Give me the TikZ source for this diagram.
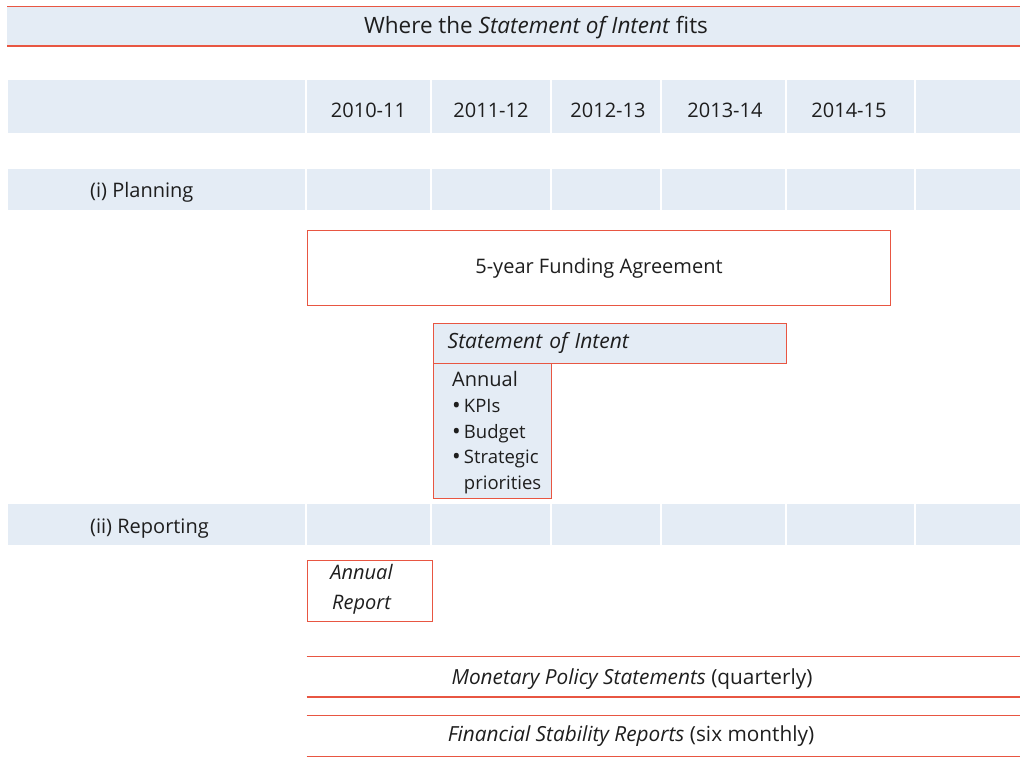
\documentclass[tikz,border=0pt]{standalone}
\usepackage{fontspec}
\setmainfont{Open Sans}
\definecolor{rbred}{RGB}{232,86,66}
\definecolor{paleblue}{RGB}{228,236,245}
\definecolor{ink}{RGB}{30,30,30}
\newcommand{\dotitem}{\raisebox{-1.2pt}{\fontsize{23}{23}\selectfont\textbullet}\,}

\begin{document}
\begin{tikzpicture}[x=1pt,y=-1pt,
  every node/.style={font=\fontsize{20}{24}\selectfont,text=ink,inner sep=0pt},
  band/.style={fill=paleblue},
  rule/.style={draw=rbred,line width=1.4pt},
  frame/.style={rule,anchor=north west},
  wide/.style={font=\fontsize{20.8}{24}\selectfont},
  small/.style={font=\fontsize{18.5}{25.6}\selectfont}]
\useasboundingbox (0,0) rectangle (1020,777);

% title strip
\fill[band] (7,6.5) rectangle (1020,46);
\draw[rule] (7,6.5) -- (1020,6.5) (7,46) -- (1020,46);
\node[anchor=base,font=\fontsize{22.5}{26}\selectfont] (title) at (536,33.3) {Where the \textit{Statement of Intent} fits};

% year header, planning and reporting rows
\foreach \ya/\yb in {80/133,169/210,504/545}
  \foreach \xa/\xb in {8/305,307/430,432/550,552/660,662/785,787/914,916/1020}
    \fill[band] (\xa,\ya) rectangle (\xb,\yb);

\node[anchor=base] (y1) at (368.5,117.3) {2010-11};
\node[anchor=base] (y2) at (491,117.3) {2011-12};
\node[anchor=base] (y3) at (608,117.3) {2012-13};
\node[anchor=base] (y4) at (725,117.3) {2013-14};
\node[anchor=base] (y5) at (849,117.3) {2014-15};

\node[anchor=base west] (plan) at (90,197) {(i) Planning};
\node[anchor=base west] (rep) at (90,533) {(ii) Reporting};

% planning documents
\node[frame,minimum width=583.5,minimum height=75.5] (fund) at (306.5,229.5) {5-year Funding Agreement};
\node[frame,band,minimum width=118,minimum height=135] (annual) at (432.5,362.5) {};
\node[frame,band,minimum height=40,text width=324,inner xsep=14.5,align=left,font=\fontsize{21}{24}\selectfont\itshape] (soi) at (432.5,322.5) {Statement of Intent};
\node[small,anchor=north west,align=left] (kpi) at (452,371.5)
  {{\fontsize{20}{24}\selectfont Annual}\\\dotitem KPIs\\\dotitem Budget\\\dotitem Strategic\\\phantom{\dotitem}priorities};

% reporting documents
\node[frame,minimum width=125,minimum height=61] (arep) at (306.5,560) {};
\node[anchor=north,align=center,font=\fontsize{20}{30}\selectfont\itshape] (areptxt) at (361.5,564.5) {Annual\\Report};

\node[minimum width=713.5,minimum height=40,anchor=north west] (mps) at (306.5,656.7) {};
\node[wide,anchor=base] (mpstxt) at (632,684.3) {\textit{Monetary Policy Statements} (quarterly)};
\draw[rule] (mps.north west) -- (mps.north east) (mps.south west) -- (mps.south east);

\node[minimum width=713.5,minimum height=40.7,anchor=north west] (fsr) at (306.5,715.3) {};
\node[wide,anchor=base] (fsrtxt) at (631,741.7) {\textit{Financial Stability Reports} (six monthly)};
\draw[rule] (fsr.north west) -- (fsr.north east) (fsr.south west) -- (fsr.south east);
\end{tikzpicture}
\end{document}
